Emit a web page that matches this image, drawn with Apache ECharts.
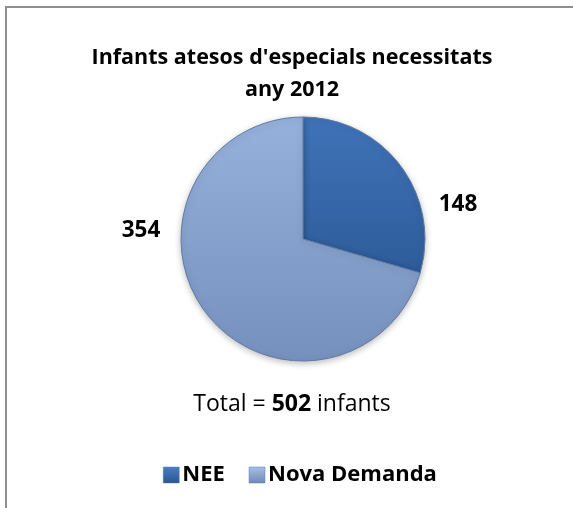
<!DOCTYPE html>
<html>
<head>
<meta charset="utf-8">
<script src="https://cdn.jsdelivr.net/npm/echarts@6/dist/echarts.min.js"></script>
<style>
html,body{margin:0;padding:0;background:#fff;}
#c{width:573px;height:508px;}
</style>
</head>
<body>
<div id="c"></div>
<script>
var categories = ['NEE', 'Nova Demanda'];
var values = [148, 354];
var titleLines = ["Infants atesos d'especials necessitats", 'any 2012'];
var totalLabel = ['Total = ', ' infants'];

var total = values.reduce(function (a, b) { return a + b; }, 0);

var sliceColors = [
  {type: 'linear', x: 0, y: 0, x2: 0, y2: 1, colorStops: [{offset: 0, color: '#3f73b8'}, {offset: 1, color: '#2e5c9a'}]},
  {type: 'linear', x: 0, y: 0, x2: 0, y2: 1, colorStops: [{offset: 0, color: '#96b1dc'}, {offset: 1, color: '#7690bd'}]}
];
var legendColors = [
  {type: 'linear', x: 0, y: 0, x2: 0, y2: 1, colorStops: [{offset: 0, color: '#4a7fc4'}, {offset: 1, color: '#2a5590'}]},
  {type: 'linear', x: 0, y: 0, x2: 0, y2: 1, colorStops: [{offset: 0, color: '#a6c0e6'}, {offset: 1, color: '#7089b5'}]}
];
var labelPos = [[458, 205], [141, 231]];

var chart = echarts.init(document.getElementById('c'), null, {renderer: 'canvas'});
var font = '"Open Sans", sans-serif';

chart.setOption({
  backgroundColor: '#ffffff',
  animation: false,
  title: [{
    text: titleLines.join('\n'),
    left: 287, top: 37, textAlign: 'center',
    textStyle: {fontFamily: font, fontWeight: 'bold', fontSize: 21.5, color: '#000', lineHeight: 32}
  }, {
    text: '{n|' + totalLabel[0] + '}{b|' + total + '}{n|' + totalLabel[1] + '}',
    left: 287, top: 388, textAlign: 'center',
    textStyle: {
      fontWeight: 'normal',
      rich: {
        n: {fontFamily: font, fontSize: 23, fontWeight: 'normal', color: '#000'},
        b: {fontFamily: font, fontSize: 23, fontWeight: 'bold', color: '#000'}
      }
    }
  }],
  legend: {
    data: categories.map(function (c, i) { return {name: c, itemStyle: {color: legendColors[i], borderColor: '#5a7db0', borderWidth: 0.5}}; }),
    left: 158, top: 459,
    icon: 'rect', itemWidth: 16, itemHeight: 16, itemGap: 24,
    textStyle: {fontFamily: font, fontWeight: 'bold', fontSize: 22, color: '#000', padding: [0, 0, 0, -2]}
  },
  graphic: [{
    type: 'polyline', shape: {points: [[6, 620], [6, 7], [640, 7]]},
    style: {fill: 'none', stroke: '#8f8f8f', lineWidth: 2}, silent: true, z: 100
  }],
  series: [{
    type: 'pie',
    center: [303, 239],
    radius: [0, 122],
    startAngle: 90,
    clockwise: true,
    data: categories.map(function (c, i) {
      return {name: c, value: values[i], itemStyle: {color: sliceColors[i]}};
    }),
    itemStyle: {borderColor: '#5f7ba6', borderWidth: 1, shadowBlur: 6, shadowColor: 'rgba(0,0,0,0.25)', shadowOffsetY: 2},
    label: {
      show: true, position: 'outside', formatter: '{c}',
      fontFamily: font, fontWeight: 'bold', fontSize: 22.5, color: '#000'
    },
    labelLine: {show: false},
    labelLayout: function (p) {
      var pos = labelPos[p.dataIndex];
      return {x: pos[0], y: pos[1], align: 'center', verticalAlign: 'middle'};
    },
    emphasis: {disabled: true}
  }]
});
</script>
</body>
</html>
